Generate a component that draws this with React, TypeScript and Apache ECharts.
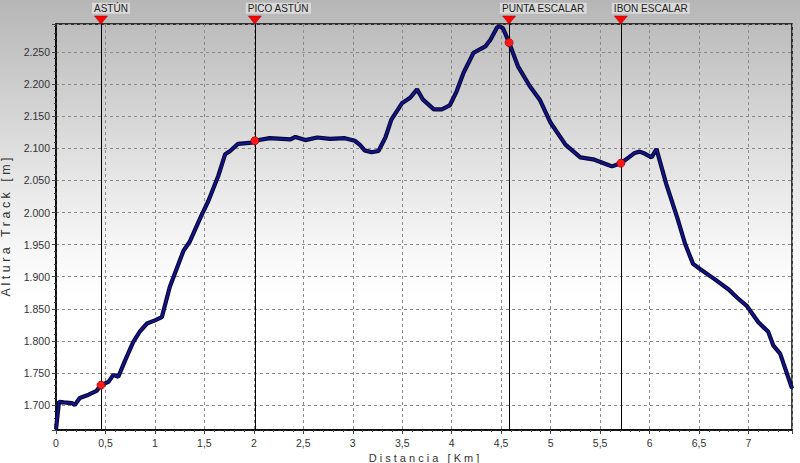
import React, { useEffect, useRef } from "react";
import * as echarts from "echarts";

const distanceKm = [
  0, 0.03, 0.08, 0.16, 0.19, 0.24, 0.33, 0.41, 0.455, 0.53, 0.58, 0.63, 0.7, 0.78, 0.85, 0.92, 1.0, 1.07,
  1.15, 1.29, 1.35, 1.46, 1.54, 1.64, 1.71, 1.76, 1.84, 1.98, 2.01, 2.16, 2.37, 2.42, 2.52, 2.64, 2.77,
  2.92, 3.02, 3.07, 3.12, 3.19, 3.26, 3.33, 3.39, 3.5, 3.58, 3.65, 3.71, 3.82, 3.9, 3.98, 4.05, 4.12,
  4.22, 4.29, 4.34, 4.39, 4.46, 4.49, 4.52, 4.58, 4.67, 4.79, 4.89, 5.0, 5.15, 5.3, 5.43, 5.57, 5.62,
  5.71, 5.79, 5.85, 5.9, 5.95, 6.02, 6.07, 6.17, 6.28, 6.36, 6.44, 6.51, 6.65, 6.8, 6.88, 6.98, 7.1,
  7.2, 7.25, 7.32, 7.44,
];
const elevationM = [
  1662, 1705, 1704, 1703, 1700, 1711, 1716, 1722, 1731, 1736, 1747, 1744, 1770, 1798, 1815, 1827, 1832, 1837,
  1884, 1941, 1954, 1992, 2018, 2057, 2091, 2096, 2107, 2109, 2112, 2116, 2114, 2118, 2113, 2117, 2115,
  2116, 2112, 2106, 2097, 2094, 2096, 2117, 2145, 2171, 2179, 2192, 2176, 2161, 2161, 2167, 2189, 2218,
  2249, 2255, 2259, 2269, 2289, 2290, 2287, 2265, 2228, 2197, 2176, 2140, 2106, 2086, 2083, 2075, 2072,
  2077, 2086, 2093, 2095, 2092, 2086, 2099, 2044, 1992, 1951, 1920, 1912, 1897, 1880, 1868, 1855, 1829,
  1814, 1793, 1780, 1726,
];

const waypointNames = ["ASTÚN", "PICO ASTÚN", "PUNTA ESCALAR", "IBON ESCALAR"];
const waypointKm = [0.455, 2.01, 4.58, 5.71];
const waypointElev = [1731, 2112, 2265, 2077];

const X_MIN = 0;
const X_MAX = 7.44;
const Y_MIN = 1661;
const Y_MAX = 2294;

const FONT = "'Liberation Sans', Arial, sans-serif";

export default function App() {
  const ref = useRef<HTMLDivElement>(null);

  useEffect(() => {
    if (!ref.current) return;
    const chart = echarts.init(ref.current, undefined, { renderer: "svg" });
    const profile = distanceKm.map((d, i) => [d, elevationM[i]]);

    chart.setOption({
      animation: false,
      backgroundColor: "transparent",
      grid: {
        left: 56,
        right: 8,
        top: 24,
        bottom: 33,
        containLabel: false,
        outerBoundsMode: "none",
        show: true,
        borderColor: "#000",
        borderWidth: 1.5,
        backgroundColor: "transparent",
      },
      xAxis: {
        type: "value",
        min: X_MIN,
        max: X_MAX,
        interval: 0.5,
        name: "D i s t a n c i a   [ K m ]",
        nameLocation: "middle",
        nameGap: 17,
        nameTextStyle: { fontFamily: FONT, fontSize: 11, color: "#333" },
        axisLine: { show: true, lineStyle: { color: "#000", width: 1.5 } },
        axisTick: { show: true, length: 4, lineStyle: { color: "#444" } },
        minorTick: { show: true, splitNumber: 5, length: 2, lineStyle: { color: "#444" } },
        axisLabel: {
          margin: 7,
          fontFamily: FONT,
          fontSize: 10.5,
          color: "#333",
          showMaxLabel: false,
          formatter: (v: number) =>
            Math.abs(v * 2 - Math.round(v * 2)) > 1e-6 ? "" : String(v).replace(".", ","),
        },
        splitLine: { show: true, lineStyle: { color: "#8a8a8a", type: [3, 3], width: 1 } },
      },
      yAxis: {
        type: "value",
        min: Y_MIN,
        max: Y_MAX,
        splitNumber: 13,
        minInterval: 50,
        maxInterval: 50,
        name: "A l t u r a   T r a c k   [ m ]",
        nameLocation: "middle",
        nameGap: 35,
        nameRotate: 90,
        nameTextStyle: { fontFamily: FONT, fontSize: 12.5, color: "#333" },
        axisLine: { show: true, lineStyle: { color: "#000", width: 1.5 } },
        axisTick: { show: true, length: 4, lineStyle: { color: "#444" } },
        minorTick: { show: true, splitNumber: 5, length: 2, lineStyle: { color: "#444" } },
        axisLabel: {
          margin: 6,
          fontFamily: FONT,
          fontSize: 10.5,
          color: "#333",
          showMinLabel: false,
          showMaxLabel: false,
          formatter: (v: number) => {
            if (Math.abs(v % 50) > 1e-6) return "";
            const s = String(Math.round(v));
            return s.slice(0, -3) + "." + s.slice(-3);
          },
        },
        splitLine: { show: true, lineStyle: { color: "#8a8a8a", type: [3, 3], width: 1 } },
      },
      series: [
        {
          type: "line",
          z: 2,
          data: [],
          silent: true,
          markLine: {
            silent: true,
            symbol: ["none", "none"],
            label: { show: false },
            lineStyle: { color: "#000", width: 1, type: "solid" },
            data: waypointKm.map((k) => ({ xAxis: k })),
          },
        },
        {
          type: "line",
          z: 3,
          data: profile,
          symbol: "none",
          silent: true,
          lineStyle: { color: "#06062e", width: 4.2 },
        },
        {
          type: "line",
          z: 4,
          data: profile,
          symbol: "none",
          silent: true,
          lineStyle: { color: "#14148e", width: 2 },
        },
        {
          type: "scatter",
          z: 6,
          clip: false,
          silent: true,
          data: waypointKm.map((k, i) => [k, waypointElev[i]]),
          symbol: "circle",
          symbolSize: 8,
          itemStyle: { color: "#ff1a1a", borderColor: "#b00000", borderWidth: 0.8, opacity: 1 },
        },
        {
          type: "scatter",
          z: 7,
          clip: false,
          silent: true,
          data: waypointKm.map((k, i) => ({ value: [k, Y_MAX], name: waypointNames[i] })),
          symbol: "triangle",
          symbolRotate: 180,
          symbolSize: [13, 8],
          symbolOffset: [0, -4],
          itemStyle: { color: "#ff0000", borderColor: "#a00000", borderWidth: 0.5, opacity: 1 },
          label: {
            show: true,
            position: "top",
            distance: 2,
            align: "left",
            offset: [-9, 0],
            formatter: "{b}",
            fontFamily: FONT,
            fontSize: 10,
            color: "#222",
            backgroundColor: "rgba(232,232,232,0.7)",
            padding: [1, 2, 0, 2],
          },
        },
      ],
    });

    return () => chart.dispose();
  }, []);

  return (
    <div
      ref={ref}
      style={{
        position: "fixed",
        left: 0,
        top: 0,
        width: 800,
        height: 463,
        background:
          "linear-gradient(to bottom, #b6b6b6 0%, #cfcfcf 20%, #e8e8e8 40%, #f8f8f8 55%, #ffffff 65%, #ffffff 100%)",
      }}
    />
  );
}
